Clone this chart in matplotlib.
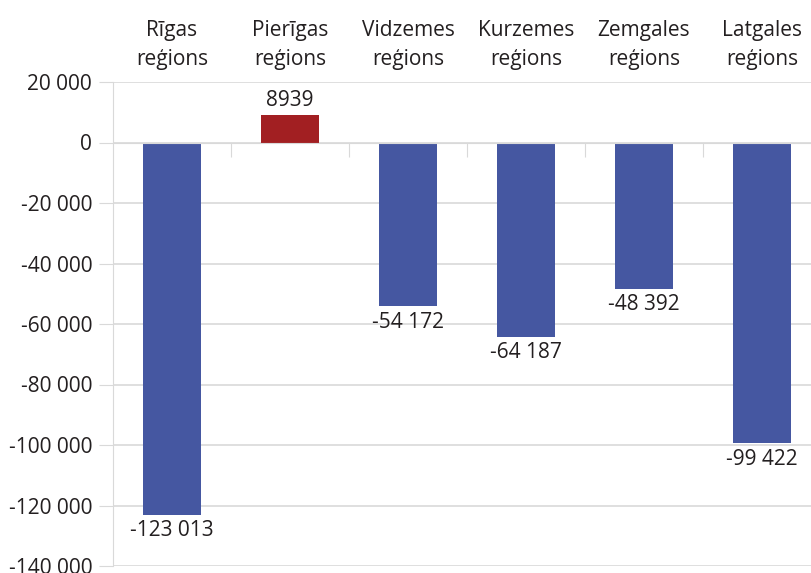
import numpy as np
import matplotlib.pyplot as plt
from matplotlib.ticker import FuncFormatter, FixedLocator

# region names (two lines each) and values
regions = ['Rīgas\nreģions', 'Pierīgas\nreģions', 'Vidzemes\nreģions',
           'Kurzemes\nreģions', 'Zemgales\nreģions', 'Latgales\nreģions']
values = [-123013, 8939, -54172, -64187, -48392, -99422]
value_labels = ['-123 013', '8939', '-54 172', '-64 187', '-48 392', '-99 422']

blue = '#4557a1'
red = '#a21f22'
grid_col = '#d9d9d9'
txt = '#231f20'

plt.rcParams['font.family'] = ['Open Sans', 'DejaVu Sans']
fs = 15

fig = plt.figure(figsize=(8.11, 5.73), dpi=100)
ax = fig.add_axes([113/811, 1-566/573, 708/811, (566-82)/573])

x = np.arange(len(regions))
colors = [red if v > 0 else blue for v in values]
ax.bar(x, values, width=0.49, color=colors, zorder=3)

ax.set_xlim(-0.5, len(regions) - 0.5)
ax.set_ylim(-140000, 20000)
ax.set_yticks(np.arange(-140000, 20001, 20000))
ax.yaxis.set_major_formatter(FuncFormatter(lambda v, p: f'{int(v):,}'.replace(',', ' ')))
ax.tick_params(axis='y', length=10, color=grid_col, labelsize=fs, labelcolor=txt, pad=5)
ax.grid(axis='y', color=grid_col, linewidth=1.2, zorder=0)

# zero line with small ticks between categories
ax.spines['bottom'].set_position(('data', 0))
ax.spines['bottom'].set_color(grid_col)
ax.spines['bottom'].set_zorder(4)
ax.xaxis.set_major_locator(FixedLocator(np.arange(0.5, len(regions) - 1, 1.0)))
ax.tick_params(axis='x', length=10, color=grid_col, labelbottom=False)
ax.spines['left'].set_color(grid_col)
ax.spines['top'].set_visible(False)
ax.spines['right'].set_visible(False)

for i, (v, lab) in enumerate(zip(values, value_labels)):
    if v > 0:
        ax.annotate(lab, (i, v), xytext=(0, 3), textcoords='offset points',
                    ha='center', va='bottom', fontsize=fs, color=txt)
    else:
        ax.annotate(lab, (i, v), xytext=(0, -4), textcoords='offset points',
                    ha='center', va='top', fontsize=fs, color=txt)

trans = ax.get_xaxis_transform()
for i, name in enumerate(regions):
    ax.text(i, 1.025, name, transform=trans, ha='center', va='bottom',
            fontsize=fs, color=txt, linespacing=1.5)

fig.savefig('out.png', dpi=100)
